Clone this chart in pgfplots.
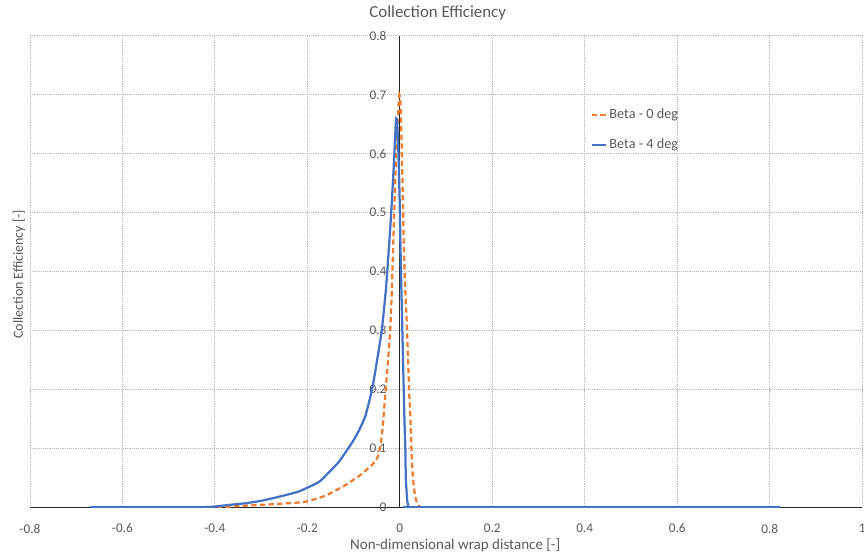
\documentclass[border=0pt]{standalone}
\usepackage{fontspec}
\setmainfont{Carlito}
\usepackage{pgfplots}
\pgfplotsset{compat=1.18}
\definecolor{txtgray}{HTML}{595959}
\definecolor{beta0}{HTML}{ED7D31}
\definecolor{beta4}{HTML}{4472C4}
\begin{document}
\begin{tikzpicture}
\begin{axis}[
    scale only axis, width=626.25pt, height=354.75pt,
    xmin=-0.8, xmax=1, ymin=0, ymax=0.8,
    axis x line=bottom, axis y line=left,
    axis y line shift=-278.25pt,
    axis line style={-, black!85, line width=0.8pt},
    xtick={-0.8,-0.6,...,1.01}, ytick={0,0.1,...,0.81},
    major tick length=0pt,
    grid=major,
    major grid style={densely dotted, gray!55, line width=0.6pt},
    /pgf/number format/assume math mode=true,
    xticklabel style={font=\fontsize{10}{12}\selectfont, text=txtgray, yshift=-9pt},
    yticklabel style={font=\fontsize{10}{12}\selectfont, text=txtgray, xshift=-6.5pt},
    title={Collection Efficiency},
    title style={at={(axis description cs:0.49,1)}, anchor=base, yshift=7.5pt, font=\fontsize{12.7}{14}\selectfont, text=txtgray},
    xlabel={Non-dimensional wrap distance [-]},
    ylabel={Collection Efficiency [-]},
    every axis x label/.style={at={(axis description cs:0.511,0)}, anchor=base, yshift=-31.5pt, font=\fontsize{11.3}{13}\selectfont, text=txtgray},
    every axis y label/.style={at={(axis description cs:0,0.5)}, rotate=90, anchor=south, xshift=-2pt, font=\fontsize{10.5}{12}\selectfont, text=txtgray},
    legend style={at={(axis cs:0.412,0.681)}, anchor=north west, draw=none, fill=none,
        font=\fontsize{10.7}{12}\selectfont, text=txtgray, row sep=9.5pt, inner sep=0pt},
    legend cell align=left,
    legend image code/.code={\draw[#1] (0cm,0cm) -- (0.37cm,0cm);},
]
\addplot[beta0, line width=1.7pt, dash pattern=on 4pt off 2.5pt, smooth, tension=0.3] coordinates {
(-0.62,0) (-0.45,0) (-0.40,0) (-0.384,0.0005) (-0.33,0.003) (-0.28,0.005) (-0.24,0.007) (-0.203,0.0096)
(-0.16,0.020) (-0.117,0.038) (-0.085,0.055) (-0.060,0.072) (-0.050,0.082) (-0.045,0.092)
(-0.040,0.115) (-0.036,0.145) (-0.031,0.195) (-0.027,0.235) (-0.022,0.285) (-0.019,0.330)
(-0.016,0.400) (-0.012,0.500) (-0.008,0.600) (-0.004,0.665) (-0.001,0.700) (0.002,0.680)
(0.005,0.580) (0.008,0.470) (0.011,0.385) (0.016,0.295) (0.020,0.200) (0.023,0.150)
(0.026,0.080) (0.029,0.045) (0.033,0.020) (0.038,0.006) (0.045,0) (0.055,0) (0.08,0) (0.80,0)
};
\addlegendentry{Beta - 0 deg}
\addplot[beta4, line width=1.7pt, smooth, tension=0.3] coordinates {
(-0.67,0) (-0.45,0) (-0.405,0.001) (-0.370,0.004) (-0.333,0.007) (-0.30,0.011) (-0.261,0.018)
(-0.218,0.027) (-0.175,0.043) (-0.155,0.058) (-0.132,0.077) (-0.103,0.110)
(-0.088,0.131) (-0.074,0.156) (-0.060,0.200) (-0.050,0.245) (-0.039,0.300) (-0.030,0.370)
(-0.024,0.435) (-0.020,0.482) (-0.017,0.522) (-0.013,0.580) (-0.010,0.630) (-0.008,0.660)
(-0.006,0.655) (-0.004,0.625) (-0.002,0.575) (0.000,0.510) (0.0015,0.440) (0.004,0.350)
(0.007,0.250) (0.010,0.150) (0.012,0.100) (0.013,0.050) (0.016,0.012) (0.019,0) (0.024,0) (0.04,0) (0.823,0)
};
\addlegendentry{Beta - 4 deg}
\coordinate (bbsw) at (axis cs:-0.8647,-0.0744);
\coordinate (bbne) at (axis cs:1.004,0.8609);
\end{axis}
\pgfresetboundingbox
\useasboundingbox (bbsw) rectangle (bbne);
\end{tikzpicture}
\end{document}
